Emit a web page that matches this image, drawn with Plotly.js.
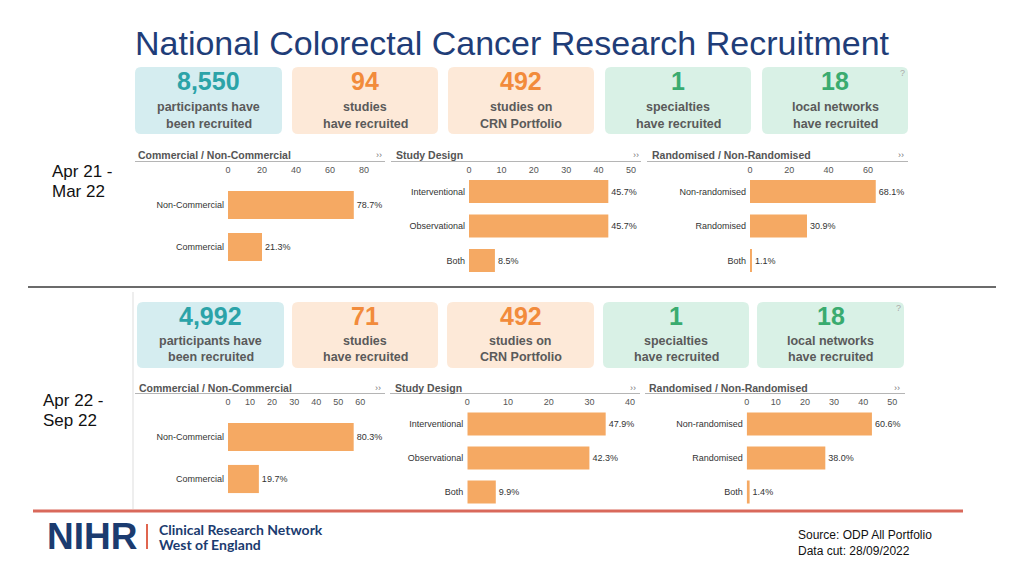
<!DOCTYPE html>
<html><head><meta charset="utf-8">
<script src="https://cdn.plot.ly/plotly-3.0.1.min.js"></script>
<style>html,body{margin:0;padding:0;background:#fff;overflow:hidden}#chart{width:1024px;height:576px}</style>
</head><body><div id="chart"></div>
<script>
// ---------- DATA ----------
const chartTitle = 'National Colorectal Cancer Research Recruitment';
const periods = [['Apr 21 -', 'Mar 22'], ['Apr 22 -', 'Sep 22']];

const kpiLine1 = ['participants have', 'studies', 'studies on', 'specialties', 'local networks'];
const kpiLine2 = ['been recruited', 'have recruited', 'CRN Portfolio', 'have recruited', 'have recruited'];
const kpiPeriod1 = ['8,550', '94', '492', '1', '18'];
const kpiPeriod2 = ['4,992', '71', '492', '1', '18'];

const panelTitles = ['Commercial / Non-Commercial', 'Study Design', 'Randomised / Non-Randomised'];
const commCats = ['Non-Commercial', 'Commercial'];
const designCats = ['Interventional', 'Observational', 'Both'];
const randCats = ['Non-randomised', 'Randomised', 'Both'];

// studies counts (bar lengths) and displayed percentage labels
const p1Comm = [74, 20];
const p1CommPct = ['78.7%', '21.3%'];
const p1Design = [43, 43, 8];
const p1DesignPct = ['45.7%', '45.7%', '8.5%'];
const p1Rand = [64, 29, 1];
const p1RandPct = ['68.1%', '30.9%', '1.1%'];

const p2Comm = [57, 14];
const p2CommPct = ['80.3%', '19.7%'];
const p2Design = [34, 30, 7];
const p2DesignPct = ['47.9%', '42.3%', '9.9%'];
const p2Rand = [43, 27, 1];
const p2RandPct = ['60.6%', '38.0%', '1.4%'];

// axis tick labels shown on each panel
const ticks1Comm = [0, 20, 40, 60, 80];
const ticks1Design = [0, 10, 20, 30, 40, 50];
const ticks1Rand = [0, 20, 40, 60];
const ticks2Comm = [0, 10, 20, 30, 40, 50, 60];
const ticks2Design = [0, 10, 20, 30, 40];
const ticks2Rand = [0, 10, 20, 30, 40, 50];

const sourceLines = ['Source: ODP All Portfolio', 'Data cut: 28/09/2022'];
const logoLines = ['Clinical Research Network', 'West of England'];

// ---------- LAYOUT HELPERS ----------
const W = 1024, H = 576;
const X = px => px / W;
const Y = py => 1 - py / H;
const FONT = 'Liberation Sans, Arial, Helvetica, sans-serif';

const annotations = [];
const shapes = [];
function txt(x, y, text, size, color, opts = {}) {
  annotations.push({
    xref: 'paper', yref: 'paper', x: X(x), y: Y(y), text: text, showarrow: false,
    xanchor: opts.xanchor || 'center', yanchor: 'middle',
    font: {family: opts.family || FONT, size: size, color: color, weight: opts.weight || 'normal'}
  });
}
function line(x0, y0, x1, y1, color, width) {
  shapes.push({type: 'line', xref: 'paper', yref: 'paper', x0: X(x0), y0: Y(y0), x1: X(x1), y1: Y(y1),
    line: {color: color, width: width}});
}
function rrect(x0, y0, x1, y1, r, fill) {
  const p = (x, y) => X(x) + ',' + Y(y);
  const path = `M${p(x0 + r, y0)} L${p(x1 - r, y0)} Q${p(x1, y0)} ${p(x1, y0 + r)} L${p(x1, y1 - r)} Q${p(x1, y1)} ${p(x1 - r, y1)} L${p(x0 + r, y1)} Q${p(x0, y1)} ${p(x0, y1 - r)} L${p(x0, y0 + r)} Q${p(x0, y0)} ${p(x0 + r, y0)} Z`;
  shapes.push({type: 'path', xref: 'paper', yref: 'paper', path: path, fillcolor: fill, line: {width: 0}, layer: 'below'});
}

// title
txt(512, 43, chartTitle, 34, '#1f3d78');

// ---------- KPI CARDS ----------
const cardFill = ['#d5edf0', '#fde9d8', '#fde9d8', '#d9f1e6', '#d9f1e6'];
const numColor = ['#2ba3a8', '#f28b3b', '#f28b3b', '#3aab6f', '#3aab6f'];
const cardRows = [
  {vals: kpiPeriod1, top: 67, bottom: 134, num: 81, l1: 107.5, l2: 123.5,
   xs: [[135, 282], [292, 438], [448, 594], [605, 751], [762, 908]]},
  {vals: kpiPeriod2, top: 302, bottom: 368, num: 315.5, l1: 341, l2: 356.5,
   xs: [[137, 284], [292, 438], [447, 594], [603, 749], [757, 904]]}
];
cardRows.forEach(row => {
  row.xs.forEach((xx, i) => {
    rrect(xx[0], row.top, xx[1], row.bottom, 6, cardFill[i]);
    const cx = (xx[0] + xx[1]) / 2;
    txt(cx, row.num, row.vals[i], 25, numColor[i], {weight: 'bold'});
    txt(cx, row.l1, kpiLine1[i], 12.5, '#5a5a5a', {weight: 'bold'});
    txt(cx, row.l2, kpiLine2[i], 12.5, '#5a5a5a', {weight: 'bold'});
  });
  const last = row.xs[4];
  txt(last[1] - 6, row.top + 6, '?', 9, '#aaaaaa');
});

// ---------- BAR PANELS ----------
const panelData = [
  {cats: commCats, vals: p1Comm, pct: p1CommPct, ticks: ticks1Comm},
  {cats: designCats, vals: p1Design, pct: p1DesignPct, ticks: ticks1Design},
  {cats: randCats, vals: p1Rand, pct: p1RandPct, ticks: ticks1Rand},
  {cats: commCats, vals: p2Comm, pct: p2CommPct, ticks: ticks2Comm},
  {cats: designCats, vals: p2Design, pct: p2DesignPct, ticks: ticks2Design},
  {cats: randCats, vals: p2Rand, pct: p2RandPct, ticks: ticks2Rand}
];
const panelGeo = [
  {zero: 228, right: 384, ppu: 1.7, top: 184, bottom: 268, tickY: 169.5,
   hx: 136, hy: 154.5, ux0: 135, ux1: 385, uy: 161.5, gx: 379},
  {zero: 469, right: 640, ppu: 3.24, top: 174.25, bottom: 277.75, tickY: 169.5,
   hx: 394, hy: 154.5, ux0: 391, ux1: 641, uy: 161.5, gx: 636},
  {zero: 750, right: 908, ppu: 1.965, top: 174.25, bottom: 277.75, tickY: 169.5,
   hx: 650, hy: 154.5, ux0: 647, ux1: 908, uy: 161.5, gx: 901},
  {zero: 228, right: 385, ppu: 2.205, top: 416, bottom: 500, tickY: 401.5,
   hx: 137, hy: 387.5, ux0: 135, ux1: 385, uy: 393.5, gx: 378},
  {zero: 467.3, right: 640, ppu: 4.07, top: 407, bottom: 509, tickY: 401.5,
   hx: 393, hy: 387.5, ux0: 390, ux1: 640, uy: 393.5, gx: 633},
  {zero: 746.7, right: 905, ppu: 2.912, top: 407, bottom: 509, tickY: 401.5,
   hx: 647, hy: 387.5, ux0: 645, ux1: 905, uy: 393.5, gx: 897}
];

const traces = [];
const layout = {
  width: W, height: H, margin: {l: 0, r: 0, t: 0, b: 0},
  paper_bgcolor: '#ffffff', plot_bgcolor: 'rgba(0,0,0,0)',
  showlegend: false, bargap: 0.33,
  font: {family: FONT}
};

panelData.forEach((pd, i) => {
  const g = panelGeo[i];
  const k = i === 0 ? '' : String(i + 1);
  traces.push({
    type: 'bar', orientation: 'h', x: pd.vals, y: pd.cats,
    xaxis: 'x' + k, yaxis: 'y' + k,
    marker: {color: '#f5a963', line: {width: 0}},
    text: pd.pct, textposition: 'outside', cliponaxis: false, constraintext: 'none',
    textfont: {family: FONT, size: 9, color: '#333333'},
    hoverinfo: 'none'
  });
  layout['xaxis' + k] = {
    domain: [X(g.zero), X(g.right)], range: [0, (g.right - g.zero) / g.ppu],
    side: 'top', anchor: 'free', position: Y(g.tickY + 5.5),
    tickmode: 'array', tickvals: pd.ticks, ticktext: pd.ticks.map(String),
    showgrid: false, zeroline: false, showline: false, ticks: '',
    tickfont: {family: FONT, size: 9, color: '#555555'}, fixedrange: true
  };
  const n = pd.cats.length;
  layout['yaxis' + k] = {
    domain: [Y(g.bottom), Y(g.top)], anchor: 'x' + k,
    type: 'category', categoryarray: pd.cats, range: [n - 0.5, -0.5],
    showgrid: false, zeroline: false, showline: false, ticks: '', ticklabelstandoff: 3,
    tickfont: {family: FONT, size: 9, color: '#333333'}, fixedrange: true
  };
  txt(g.hx, g.hy, panelTitles[i % 3], 10.5, '#555555', {weight: 'bold', xanchor: 'left'});
  line(g.ux0, g.uy, g.ux1, g.uy, '#b5b5b5', 1.2);
  txt(g.gx, g.hy, '\u203A\u203A', 9, '#777777');
});

// ---------- PERIOD LABELS & DIVIDERS ----------
txt(50, 171, periods[0][0], 17, '#111111', {xanchor: 'left'});
txt(50, 191, periods[0][1], 17, '#111111', {xanchor: 'left'});
txt(41, 400, periods[1][0], 17, '#111111', {xanchor: 'left'});
txt(41, 420, periods[1][1], 17, '#111111', {xanchor: 'left'});

line(28, 287, 996, 287, '#3a3a3a', 1.3);
line(133, 292, 133, 509, '#dddddd', 1);
line(33, 511, 963, 511, '#d9695b', 3);

// ---------- FOOTER ----------
txt(45, 536, 'NIHR', 37, '#1b3b6f', {weight: 'bold', xanchor: 'left'});
line(147, 524, 147, 549, '#e0654f', 2);
txt(157, 529, logoLines[0], 14, '#1b3b6f', {weight: 'bold', xanchor: 'left', family: 'Lato, ' + FONT});
txt(157, 544, logoLines[1], 14, '#1b3b6f', {weight: 'bold', xanchor: 'left', family: 'Lato, ' + FONT});

txt(796, 535, sourceLines[0], 12, '#111111', {xanchor: 'left'});
txt(796, 551, sourceLines[1], 12, '#111111', {xanchor: 'left'});

layout.annotations = annotations;
layout.shapes = shapes;

Plotly.newPlot('chart', traces, layout, {displayModeBar: false, staticPlot: true});
</script>
</body></html>
